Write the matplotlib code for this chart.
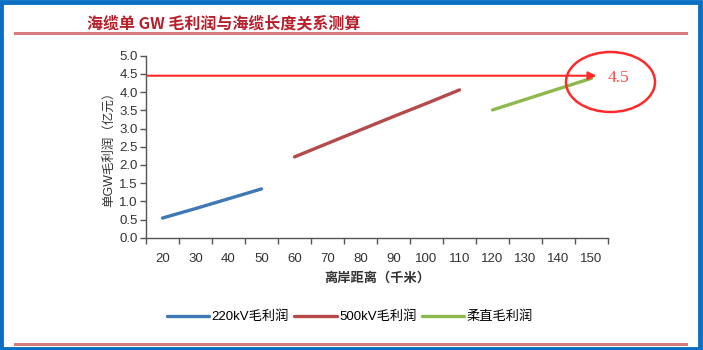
import matplotlib

matplotlib.use("Agg")
import matplotlib.pyplot as plt
from matplotlib.patches import Ellipse, Rectangle
from matplotlib.lines import Line2D

plt.rcParams["font.family"] = ["Liberation Sans", "Noto Sans CJK SC", "DejaVu Sans"]

# distance from shore (km), one category per 10 km
distances = [20, 30, 40, 50, 60, 70, 80, 90, 100, 110, 120, 130, 140, 150]

# gross profit per GW (100 million CNY)
km_220 = [20, 30, 40, 50]
profit_220 = [0.54, 0.80, 1.07, 1.34]
km_500 = [60, 70, 80, 90, 100, 110]
profit_500 = [2.22, 2.59, 2.96, 3.33, 3.69, 4.06]
km_hvdc = [120, 130, 140, 150]
profit_hvdc = [3.51, 3.80, 4.09, 4.38]

target_value = 4.45
target_label = "4.5"

title = "海缆单 GW 毛利润与海缆长度关系测算"
xlabel = "离岸距离（千米）"
ylabel = "单GW毛利润（亿元）"
series_names = ["220kV毛利润", "500kV毛利润", "柔直毛利润"]
colors = ["#3f78b5", "#b54a4a", "#8db84c"]

W, H = 703, 350
fig = plt.figure(figsize=(W / 100, H / 100), dpi=100)

# outer blue frame
fig.patches.append(Rectangle((0.002, 0.004), 0.994, 0.990, transform=fig.transFigure,
                             fill=False, edgecolor="#0a6fc2", linewidth=3.5))
# red rules above and below
for yy in (33, 344):
    fig.add_artist(Line2D([15 / W, 686 / W], [1 - yy / H] * 2, color="#d77a7e",
                          linewidth=2.2, transform=fig.transFigure))
fig.text(87 / W, 1 - 23 / H, title, color="#b81f2a", fontsize=11.5, fontweight="heavy",
         family=["Noto Sans CJK SC"], ha="left", va="center")

ax = fig.add_axes([146 / W, 1 - 237.7 / H, 462 / W, 182 / H])

idx = {d: i for i, d in enumerate(distances)}
for xs, ys, c, name in zip([km_220, km_500, km_hvdc],
                           [profit_220, profit_500, profit_hvdc], colors, series_names):
    ax.plot([idx[v] for v in xs], ys, color=c, linewidth=2.4, solid_capstyle="round",
            label=name)

ax.set_xlim(-0.5, len(distances) - 0.5)
ax.set_ylim(0, 5)
ax.set_yticks([i * 0.5 for i in range(11)])
ax.set_yticklabels([f"{i * 0.5:.1f}" for i in range(11)])
ax.set_xticks(range(len(distances)))
ax.set_xticklabels([str(d) for d in distances])
ax.set_xticks([i - 0.5 for i in range(len(distances) + 1)], minor=True)
ax.tick_params(axis="x", which="major", length=0, pad=11, labelsize=9.5, colors="#333333")
ax.tick_params(axis="x", which="minor", length=4, width=1, color="#555555")
ax.tick_params(axis="y", length=4, width=1, color="#555555", labelsize=9.5,
               labelcolor="#333333", pad=2)
for s in ("top", "right"):
    ax.spines[s].set_visible(False)
for s in ("left", "bottom"):
    ax.spines[s].set_color("#555555")
    ax.spines[s].set_linewidth(1)

ax.set_xlabel(xlabel, fontsize=9.5, fontweight="bold", color="#333333", labelpad=4,
              family=["Noto Sans CJK SC"])
ax.set_ylabel(ylabel, fontsize=9, color="#333333", labelpad=3,
              family=["Liberation Sans", "Noto Sans CJK SC"])

# arrow to the target value and circled label
ax.annotate("", xy=(13.15, target_value), xytext=(-0.45, target_value),
            xycoords="data", textcoords="data",
            arrowprops=dict(arrowstyle="-|>", color="#ff2a2a", lw=1.5,
                            mutation_scale=12, shrinkA=0, shrinkB=0))
fig.patches.append(Ellipse((610.5 / W, 1 - 82 / H), 89 / W, 60 / H,
                           transform=fig.transFigure, fill=False,
                           edgecolor="#ff2a2a", linewidth=1.8))
fig.text(618 / W, 1 - 78 / H, target_label, color="#ff4545", fontsize=12.5,
         family=["Liberation Serif"], ha="center", va="center")

fig.legend(loc="center", bbox_to_anchor=(350 / W, 1 - 317 / H), ncol=3, frameon=False,
           handlelength=3.2, handletextpad=0.2, columnspacing=0.4,
           prop={"family": ["Liberation Sans", "Noto Sans CJK SC"], "size": 9.5})

fig.savefig("out.png", dpi=100, facecolor="white")
